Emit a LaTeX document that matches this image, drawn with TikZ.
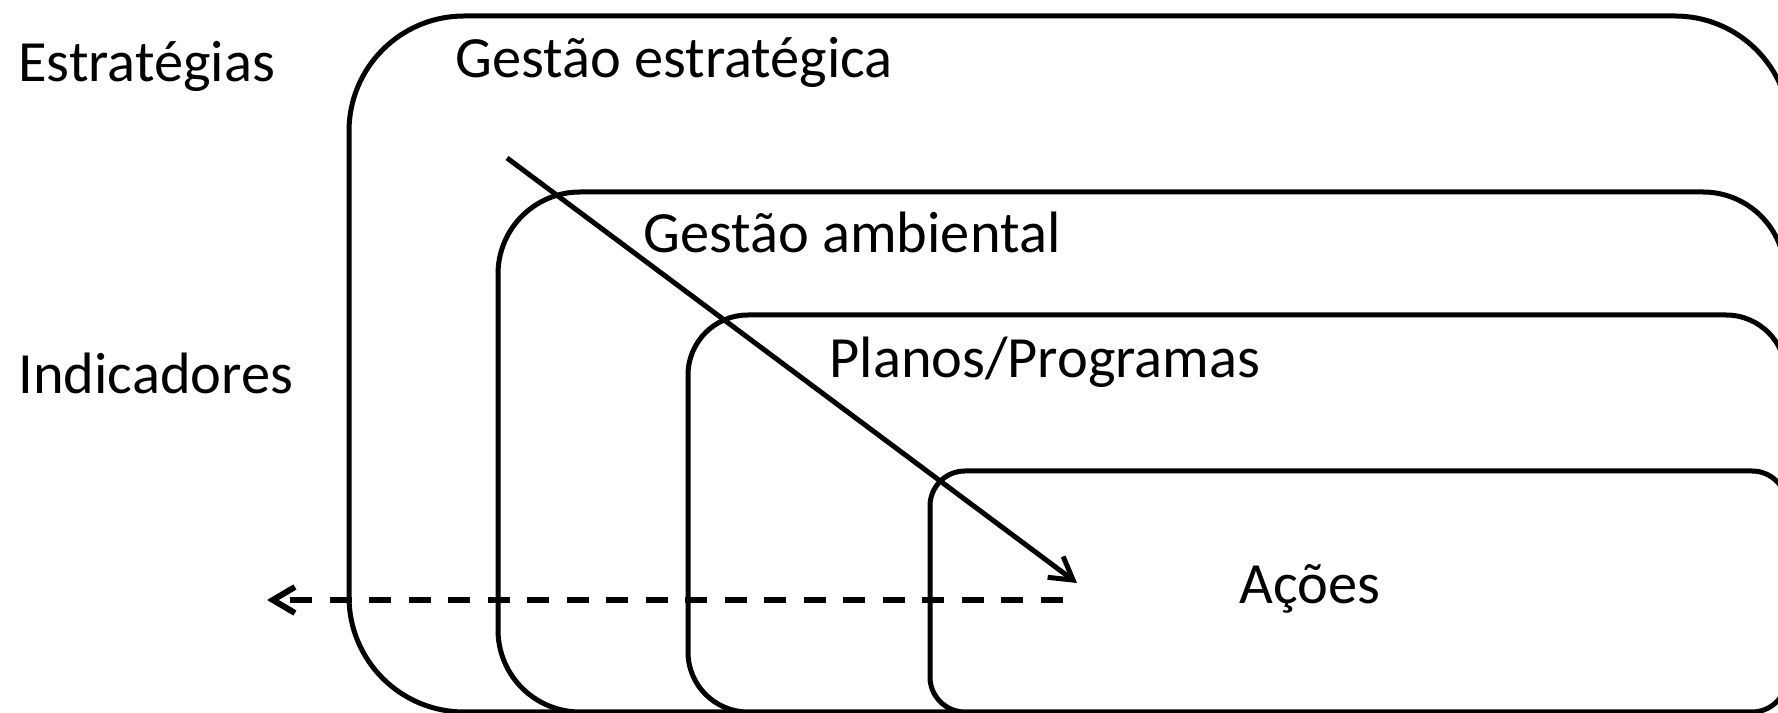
\documentclass[tikz,border=0pt]{standalone}
\usepackage{fontspec}
\setmainfont{Carlito}
\usetikzlibrary{arrows.meta}

\begin{document}
\begin{tikzpicture}[x=0.01cm, y=0.01cm, line width=0.05cm]
        \tikzstyle{every node}+=[inner sep=0pt, anchor=base west, font=\fontsize{16.6}{20}\selectfont]
        \tikzstyle{box}=[draw=black, fill=white]
        \tikzstyle{tip}=[-{Straight Barb[length=0.22cm, width=0.26cm]}]
        \useasboundingbox (0,0) rectangle (1778,-713);
        \clip (0,0) rectangle (1778,-713);
        \draw [box, rounded corners=1.15cm] (349,-16) rectangle (1790,-712);
        \draw [box, rounded corners=0.82cm] (498,-192) rectangle (1785,-712);
        \draw [box, rounded corners=0.6cm] (688,-315) rectangle (1786,-712);
        \draw [box, rounded corners=0.35cm] (930,-471) rectangle (1787,-712);
        \node (est) at (16,-82) {Estratégias};
        \node (ind) at (16,-394) {Indicadores};
        \node (gestEst) at (453,-78) {Gestão estratégica};
        \node (gestAmb) at (641,-253) {Gestão ambiental};
        \node (planos) at (827,-378) {Planos/Programas};
        \node (acoes) at (1237,-604) {Ações};
        \coordinate (topo) at (507,-158);
        \coordinate (base) at (1077,-583);
        \coordinate (volta) at (1063,-600);
        \coordinate (fim) at (267,-600);
        \draw [black, tip] (topo) -- (base);
        \draw [black, tip, line width=0.06cm, dash pattern=on 0.22cm off 0.175cm] (volta) -- (fim);
\end{tikzpicture}
\end{document}
